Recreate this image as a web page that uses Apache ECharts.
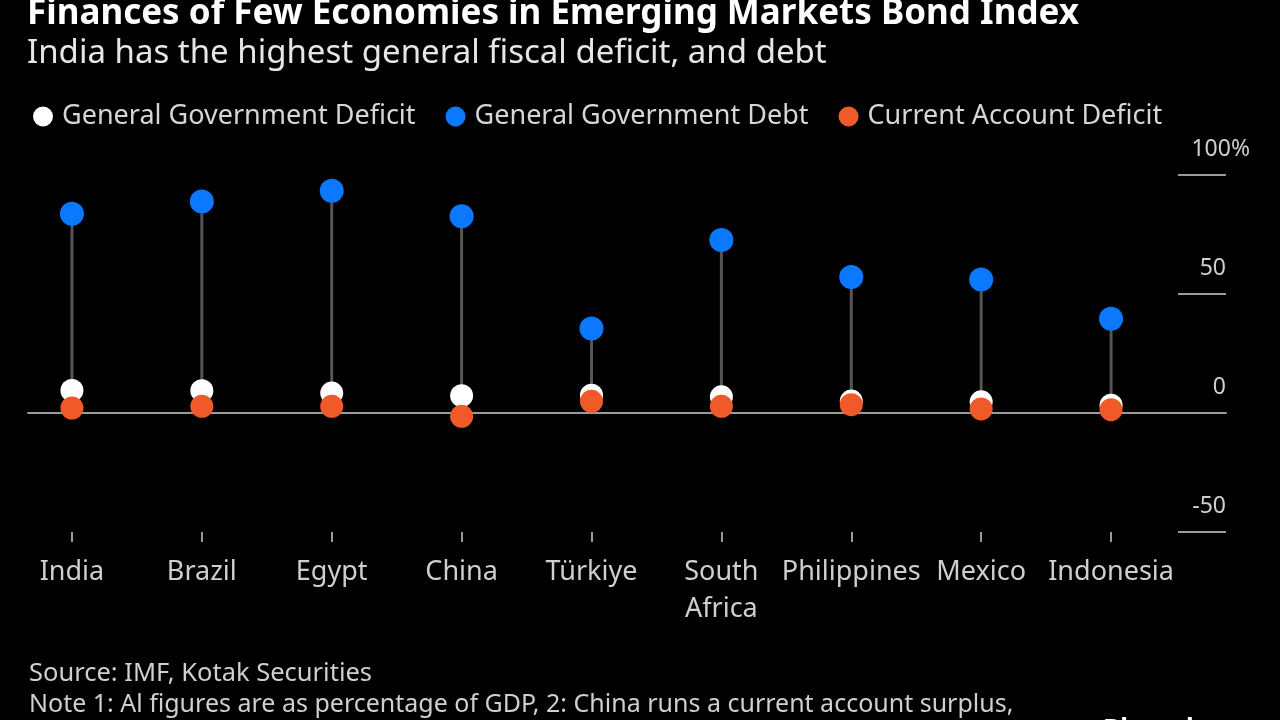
<!DOCTYPE html>
<html>
<head>
<meta charset="utf-8">
<script src="https://cdn.jsdelivr.net/npm/echarts@6/dist/echarts.min.js"></script>
<style>
html,body{margin:0;padding:0;background:#000;}
#chart{width:1280px;height:720px;}
</style>
</head>
<body>
<div id="chart"></div>
<script>
const categories = ['India','Brazil','Egypt','China','Türkiye','South\nAfrica','Philippines','Mexico','Indonesia'];
const govDeficit = [9.5, 9.4, 8.4, 7.3, 7.5, 6.8, 5.0, 4.7, 3.3];
const govDebt = [83.7, 88.9, 93.4, 82.7, 35.5, 72.7, 57.1, 56.1, 39.6];
const currentAccountDeficit = [2.1, 2.8, 2.8, -1.4, 4.9, 2.8, 3.5, 1.7, 1.4];
const yTicks = [-50, 0, 50, 100];

const FONT = 'Noto Sans';
const stemData = categories.map((c, i) => [i, govDeficit[i], govDebt[i]]);

const chart = echarts.init(document.getElementById('chart'));
chart.setOption({
  backgroundColor: '#000',
  animation: false,
  textStyle: { fontFamily: FONT },
  title: [
    { text: 'Finances of Few Economies in Emerging Markets Bond Index', left: 22, top: -8,
      textStyle: { color: '#fff', fontSize: 35, fontWeight: 'bold', fontFamily: FONT } },
    { text: 'India has the highest general fiscal deficit, and debt', left: 22, top: 32,
      textStyle: { color: '#e6e6e6', fontSize: 33, fontWeight: 'normal', fontFamily: FONT } },
    { text: 'Source: IMF, Kotak Securities', left: 24, top: 656,
      textStyle: { color: '#cfcfcf', fontSize: 25.5, fontWeight: 'normal', fontFamily: FONT } },
    { text: 'Note 1: Al figures are as percentage of GDP, 2: China runs a current account surplus,', left: 24, top: 687,
      textStyle: { color: '#cfcfcf', fontSize: 25, fontWeight: 'normal', fontFamily: FONT } },
    { text: 'Bloomberg', left: 1098, top: 713,
      textStyle: { color: '#fff', fontSize: 26, fontWeight: 'bold', fontFamily: FONT } }
  ],
  legend: {
    left: 28, top: 98, itemWidth: 20, itemHeight: 20, itemGap: 30,
    icon: 'circle',
    textStyle: { color: '#d6d6d6', fontSize: 27, fontFamily: FONT, padding: [0, 0, 0, 4] },
    data: ['General Government Deficit', 'General Government Debt', 'Current Account Deficit']
  },
  grid: [
    { left: 7, right: 104, top: 175, bottom: 188 },
    { left: 28, right: 54, top: 175, bottom: 188 }
  ],
  xAxis: [
    { type: 'category', gridIndex: 0, data: categories,
      axisLine: { show: false, onZero: false },
      axisTick: { show: true, alignWithLabel: true, length: 10, lineStyle: { color: '#999', width: 2 } },
      axisLabel: { color: '#cfcfcf', fontSize: 27, margin: 22, lineHeight: 37, interval: 0, fontFamily: FONT },
      splitLine: { show: false } },
    { type: 'value', gridIndex: 1, min: 0, max: 1,
      axisLine: { show: true, onZero: true, lineStyle: { color: '#9a9a9a', width: 2 } },
      axisTick: { show: false }, axisLabel: { show: false }, splitLine: { show: false } }
  ],
  yAxis: [
    { type: 'value', gridIndex: 0, min: -50, max: 100, interval: 50, show: false },
    { type: 'value', gridIndex: 1, position: 'right', min: -50, max: 100, interval: 50,
      axisLine: { show: false, onZero: false },
      axisTick: { show: true, inside: true, length: 48, lineStyle: { color: '#9a9a9a', width: 2 } },
      splitLine: { show: false },
      axisLabel: {
        align: 'right', verticalAlign: 'bottom', margin: 24, padding: [0, 0, 14, 0],
        color: '#cfcfcf', fontSize: 23, fontFamily: FONT,
        formatter: v => v === 100 ? '{a|100%}' : '{b|' + v + '}',
        rich: {
          a: { color: '#cfcfcf', fontSize: 23, fontFamily: FONT },
          b: { color: '#cfcfcf', fontSize: 23, fontFamily: FONT, padding: [0, 24, 0, 0] }
        }
      } }
  ],
  series: [
    { type: 'custom', xAxisIndex: 0, yAxisIndex: 0, data: stemData, z: 1,
      encode: { x: 0, y: [1, 2] },
      renderItem: (params, api) => {
        const i = api.value(0);
        const a = api.coord([i, api.value(1)]);
        const b = api.coord([i, api.value(2)]);
        return { type: 'line', shape: { x1: a[0], y1: a[1], x2: b[0], y2: b[1] },
          style: { stroke: '#555', lineWidth: 3 } };
      } },
    { name: 'General Government Deficit', type: 'scatter', xAxisIndex: 0, yAxisIndex: 0, z: 3,
      symbolSize: 23, itemStyle: { color: '#ffffff', opacity: 1 }, data: govDeficit },
    { name: 'General Government Debt', type: 'scatter', xAxisIndex: 0, yAxisIndex: 0, z: 3,
      symbolSize: 24, itemStyle: { color: '#0a78ff', opacity: 1 }, data: govDebt },
    { name: 'Current Account Deficit', type: 'scatter', xAxisIndex: 0, yAxisIndex: 0, z: 4,
      symbolSize: 23, itemStyle: { color: '#f05a28', opacity: 1 }, data: currentAccountDeficit }
  ]
});
</script>
</body>
</html>
